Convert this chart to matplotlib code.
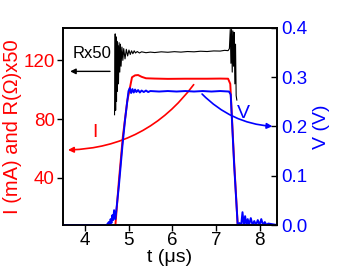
import numpy as np
import matplotlib
matplotlib.use("Agg")
import matplotlib.pyplot as plt

plt.rcParams['font.family'] = ['Liberation Sans', 'DejaVu Sans']

# current I (mA)
t_I = [3.5, 4.68, 4.70, 4.78, 4.87, 4.97, 5.08, 5.15, 5.22, 5.30, 5.40, 5.6, 5.9,
       6.3, 6.8, 7.1, 7.28, 7.33, 7.42, 7.50, 7.55, 8.4]
I = [0, 0, 8, 38, 68, 92, 108.5, 109.8, 110, 108.8, 107.8, 107.6, 107.4,
     107.5, 107.5, 107.6, 107.5, 104, 50, 8, 0, 0]

# resistance x50
t_R = [4.68, 4.695, 4.705, 4.715, 4.725, 4.735, 4.745, 4.755, 4.77, 4.785, 4.80, 4.815,
       4.83, 4.85, 4.87, 4.89, 4.92, 4.95, 4.98, 5.01, 5.04, 5.07, 5.10, 5.13, 5.16,
       5.20, 5.25, 5.30, 5.40, 5.50, 5.60, 5.75, 5.90, 6.05, 6.20, 6.35, 6.50, 6.65,
       6.80, 6.95, 7.10, 7.20, 7.28, 7.31, 7.33, 7.345, 7.36, 7.375, 7.39, 7.405,
       7.42, 7.435, 7.45, 7.465, 7.48]
R = [83, 138, 86, 136, 92, 133, 99, 130, 104, 132, 112, 131,
     116, 129, 120, 128, 121, 127.5, 123, 127, 124, 126.5, 124.5, 126.5, 125,
     126, 125, 125.8, 125.2, 125.6, 125.3, 125.8, 125.5, 125.9, 125.6, 126.0, 125.8, 126.2,
     126.0, 126.4, 126.3, 126.8, 126.6, 128, 141, 118, 141, 112, 140, 116,
     139, 104, 131, 96, 93]

# voltage (V)
t_V = [3.5, 4.50, 4.55, 4.57, 4.59, 4.61, 4.63, 4.65, 4.67, 4.70, 4.78, 4.86, 4.92,
       4.97, 5.00, 5.03, 5.06, 5.09, 5.12, 5.15, 5.18, 5.22, 5.26, 5.30, 5.35, 5.40,
       5.45, 5.5, 5.7, 5.9, 6.1, 6.3, 6.5, 6.7, 6.9, 7.1, 7.3, 7.34, 7.42, 7.50,
       7.54, 7.58, 7.61, 7.64, 7.67, 7.70, 7.73, 7.76, 7.80, 7.84, 7.88, 7.92, 7.96,
       8.00, 8.04, 8.08, 8.12, 8.16, 8.20, 8.4]
V = [0, 0, 0.006, 0.001, 0.012, 0.004, 0.02, 0.01, 0.03, 0.012, 0.08, 0.16, 0.213,
     0.25, 0.272, 0.278, 0.268, 0.276, 0.269, 0.275, 0.27, 0.274, 0.269, 0.273, 0.27, 0.273,
     0.27, 0.272, 0.271, 0.272, 0.271, 0.272, 0.271, 0.272, 0.271, 0.272, 0.271, 0.265, 0.12, 0.0,
     0.004, 0.0, 0.026, 0.0, 0.018, 0.0, 0.012, 0.0, 0.014, 0.0, 0.008, 0.0, 0.01,
     0.0, 0.012, 0.0, 0.006, 0.0, 0.003, 0.0]

x_ticks = [4, 5, 6, 7, 8]
left_ticks = [40, 80, 120]
right_ticks = [0.0, 0.1, 0.2, 0.3, 0.4]

fig = plt.figure(figsize=(3.53, 2.70), dpi=100)
ax = fig.add_axes([63 / 353, 45 / 270, 214 / 353, 197 / 270])
ax2 = ax.twinx()

ax.plot(t_I, I, color='red', lw=1.4)
ax.plot(t_R, R, color='black', lw=0.8)
ax2.plot(t_V, V, color='blue', lw=1.4)

ax.set_xlim(3.5, 8.4)
ax.set_ylim(8, 142)
ax2.set_ylim(0, 0.4)
ax.set_xticks(x_ticks)
ax.set_yticks(left_ticks)
ax2.set_yticks(right_ticks)
ax2.set_yticklabels(['%.1f' % v for v in right_ticks])

ax.tick_params(axis='x', labelsize=13.5, length=4, width=1, pad=1)
ax.tick_params(axis='y', labelsize=13.5, labelcolor='red', length=4, width=1, pad=2)
ax2.tick_params(axis='y', labelsize=13.5, labelcolor='blue', length=4, width=1,
                direction='in', pad=3)
for sp in ax.spines.values():
    sp.set_linewidth(1.2)
for sp in ax2.spines.values():
    sp.set_linewidth(1.2)

ax.set_xlabel('t (\u03bcs)', fontsize=14, labelpad=0)
ax.set_ylabel('I (mA) and R(\u03a9)x50', fontsize=14.5, color='red', labelpad=1)
ax2.set_ylabel('V (V)', fontsize=14, color='blue', labelpad=4)

# annotations
ax.text(3.72, 124.5, 'Rx50', fontsize=12, ha='left', va='center')
ax.annotate('', xy=(3.6, 112.5), xytext=(4.64, 112.5),
            arrowprops=dict(arrowstyle='-|>', color='black', lw=1, mutation_scale=8))
ax.text(4.23, 71, 'I', fontsize=14, color='red', ha='center', va='center')
ax.annotate('', xy=(3.55, 59), xytext=(6.53, 105),
            arrowprops=dict(arrowstyle='-|>', color='red', lw=1.2, mutation_scale=8,
                            connectionstyle='arc3,rad=-0.25'))
ax2.text(7.63, 0.227, 'V', fontsize=14, color='blue', ha='center', va='center')
ax2.annotate('', xy=(8.36, 0.2), xytext=(6.64, 0.27),
             arrowprops=dict(arrowstyle='-|>', color='blue', lw=1.2, mutation_scale=8,
                             connectionstyle='arc3,rad=0.2'))

fig.savefig('out.png', dpi=100)
